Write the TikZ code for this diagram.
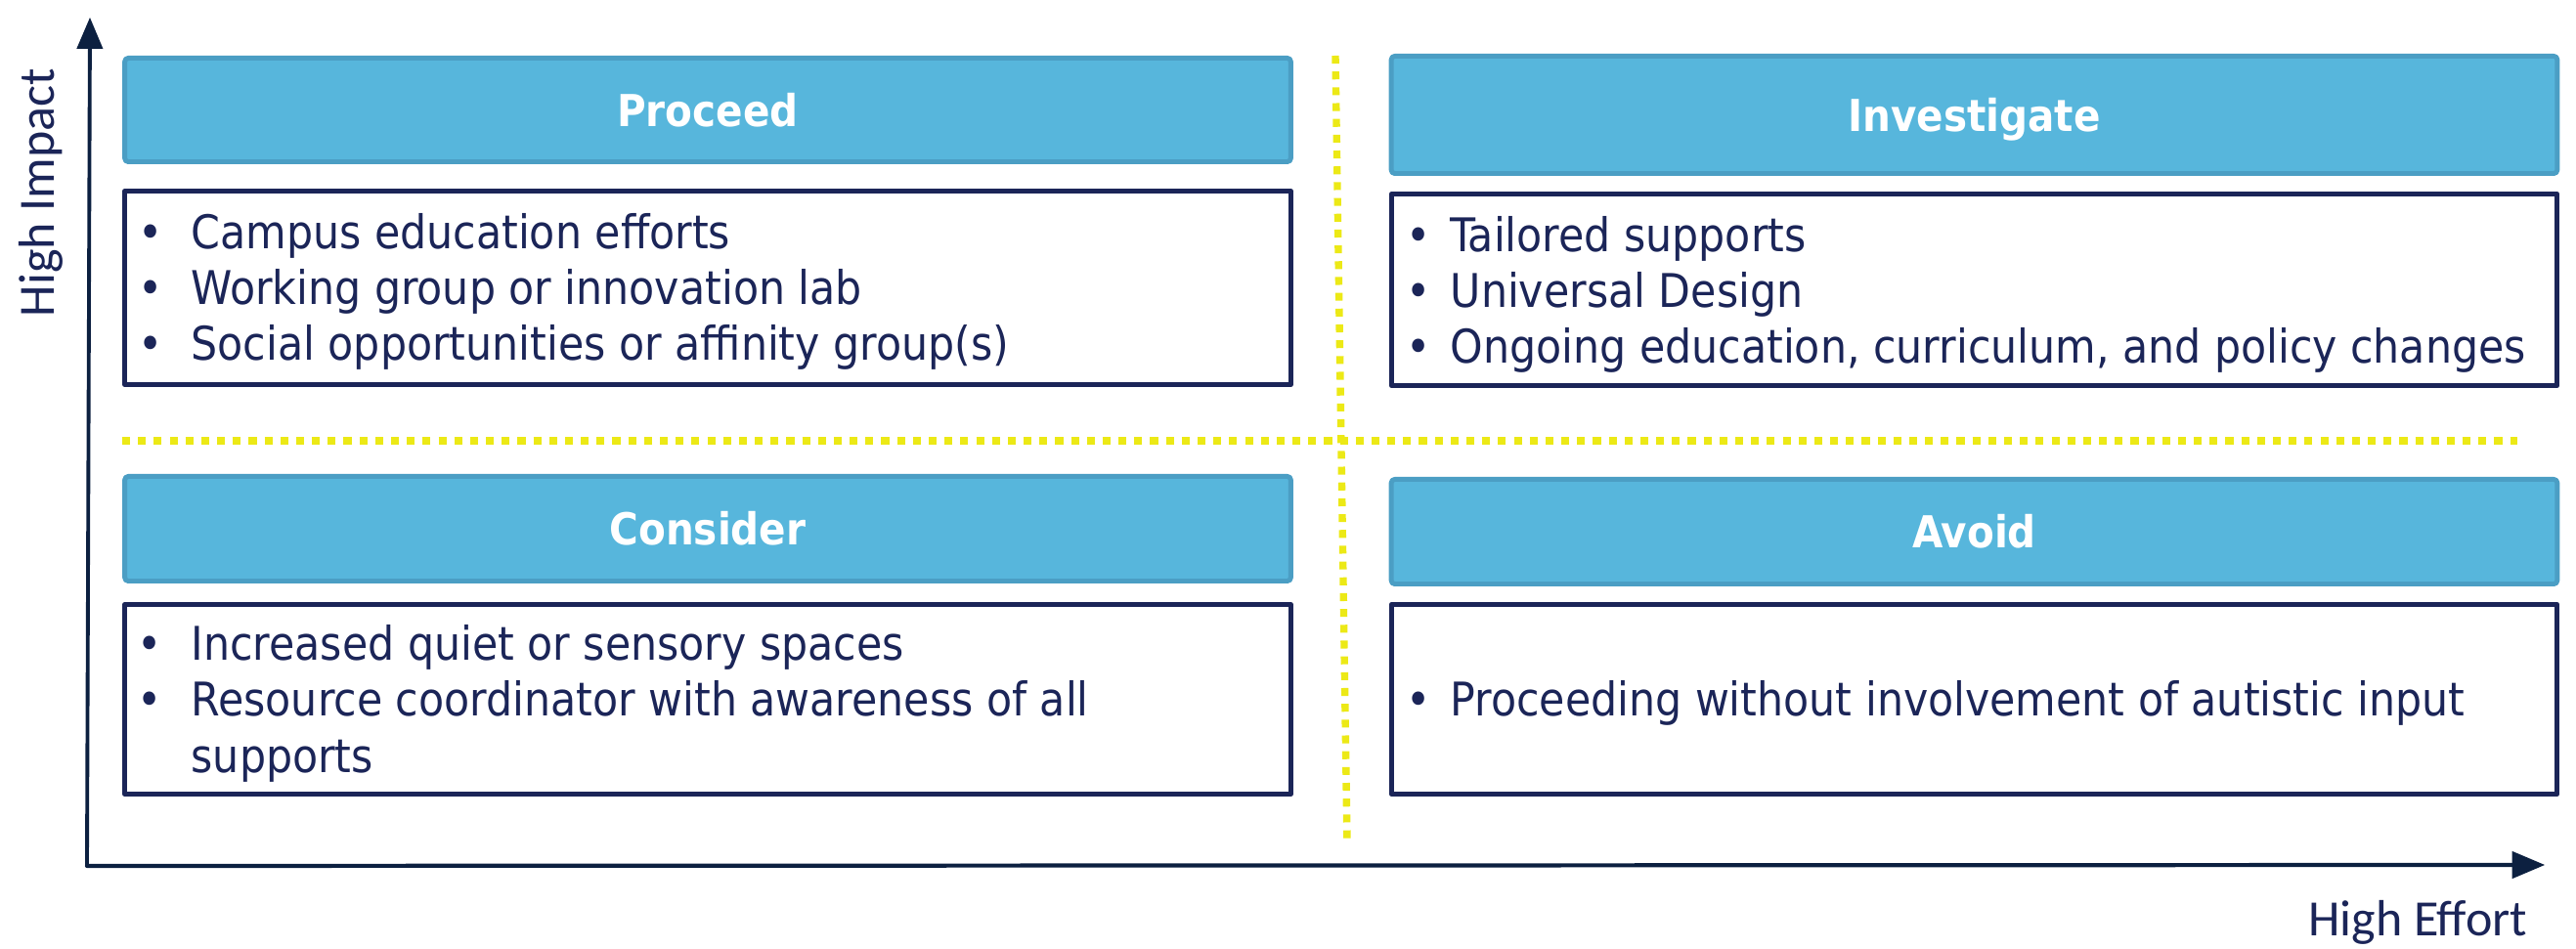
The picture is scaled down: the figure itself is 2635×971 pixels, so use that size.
\documentclass[tikz,border=0pt]{standalone}
\usepackage{fontspec}
\setmainfont{DejaVu Sans Condensed}
\newfontfamily\axisfont{Carlito}
\usepackage{tikz}
\usetikzlibrary{arrows}
\definecolor{navy}{RGB}{27,37,88}
\definecolor{axisblue}{RGB}{12,32,64}
\definecolor{hdrfill}{RGB}{87,182,220}
\definecolor{hdrline}{RGB}{75,158,196}
\definecolor{dotyellow}{RGB}{236,233,22}

\begin{document}
\begin{tikzpicture}[line cap=round,line join=round,>=triangle 45,x=0.01cm,y=-0.01cm,
  hdr/.style={draw=hdrline,fill=hdrfill,line width=1.4pt,rounded corners=1pt,minimum width=11.92cm,inner sep=0pt,
    text=white,font=\fontsize{12.8}{15}\selectfont\bfseries,text height=9.4pt,text depth=0pt},
  listbox/.style={draw=navy,fill=white,line width=1.4pt,minimum width=11.92cm,inner sep=0pt},
  itm/.style={anchor=base west,inner sep=0pt,text=navy,font=\fontsize{13.5}{16}\selectfont},
  dots/.style={dotyellow,line width=2.1pt,line cap=butt,dash pattern=on 2.3pt off 2.3pt},
  axislbl/.style={inner sep=0pt,text=navy,font=\axisfont\fontsize{14.8}{17}\selectfont}]
      \useasboundingbox (0,0) rectangle (2635,971);
      \coordinate (origin) at (89,886);
      \coordinate (ytop) at (92,18);
      \coordinate (xend) at (2603,885);
      \draw[->,color=axisblue,line width=1.1pt] (origin) -- (ytop);
      \draw[->,color=axisblue,line width=1.2pt] (origin) -- (xend);
      \node[axislbl,rotate=90,anchor=base] (impact) at (55,197) {High Impact};
      \node[axislbl,anchor=base east] (effort) at (2586,958) {High Effort};
      \draw[dots] (125,451) -- (2575,451);
      \draw[dots] (1366,57) -- (1378,863);
      \node[hdr,minimum height=1.06cm] (proceed) at (724,112.5) {Proceed};
      \node[hdr,minimum height=1.20cm] (investigate) at (2019.5,117.5) {Investigate};
      \node[hdr,minimum height=1.07cm] (consider) at (724,541) {Consider};
      \node[hdr,minimum height=1.07cm] (avoid) at (2019.5,544) {Avoid};
      \node[listbox,minimum height=1.98cm] (proceedbox) at (724,294.5) {};
      \node[listbox,minimum height=1.96cm] (investigatebox) at (2019.5,296.5) {};
      \node[listbox,minimum height=1.94cm] (considerbox) at (724,715.5) {};
      \node[listbox,minimum height=1.94cm] (avoidbox) at (2019.5,715.5) {};
      \foreach \t [count=\i] in {Campus education efforts,Working group or innovation lab,Social opportunities or affinity group(s)}{
      \node[itm,anchor=base] (pb\i) at (154,{198+57*\i}) {\textbullet};
      \node[itm] (p\i) at (195,{198+57*\i}) {\t};
      }
      \foreach \t [count=\i] in {Tailored supports,Universal Design,{Ongoing education, curriculum, and policy changes}}{
      \node[itm,anchor=base] (ib\i) at (1451,{201+57*\i}) {\textbullet};
      \node[itm] (i\i) at (1483,{201+57*\i}) {\t};
      }
      \foreach \t [count=\i] in {Increased quiet or sensory spaces,Resource coordinator with awareness of all}{
      \node[itm,anchor=base] (cb\i) at (153,{619+57*\i}) {\textbullet};
      \node[itm] (c\i) at (195,{619+57*\i}) {\t};
      }
      \node[itm] (c3) at (195,791) {supports};
      \node[itm,anchor=base] (ab1) at (1451,733) {\textbullet};
      \node[itm] (a1) at (1483,733) {Proceeding without involvement of autistic input};
    \end{tikzpicture}
\end{document}
